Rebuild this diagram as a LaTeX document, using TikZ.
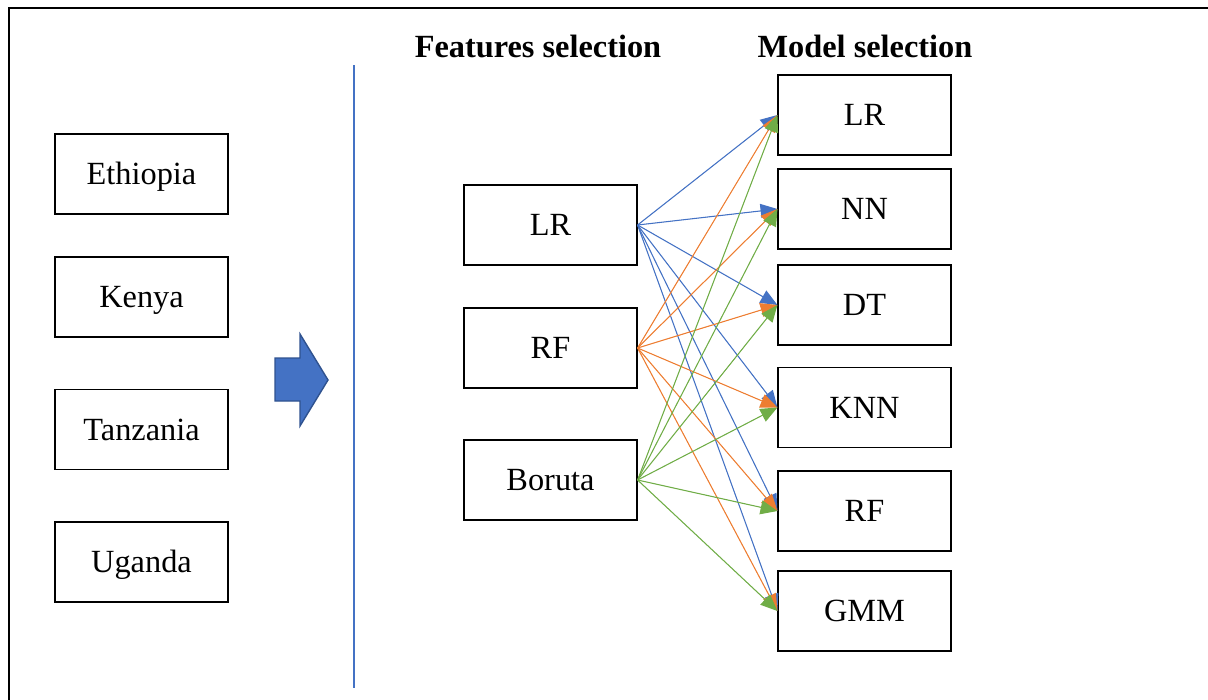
\documentclass[tikz,border=0pt]{standalone}
\usepackage{fontspec}
\setmainfont{Liberation Serif}
\usepackage{xcolor}
\usepackage{tikz}
\usetikzlibrary{arrows.meta}
\definecolor{accblue}{HTML}{4472C4}
\definecolor{accorange}{HTML}{ED7D31}
\definecolor{accgreen}{HTML}{70AD47}
\definecolor{arrowedge}{HTML}{2F528F}
\tikzset{my_diagram/.style={x=0.025cm,y=-0.025cm,line width=0.75pt}}
\tikzset{my_box/.style={draw, line width=0.8pt, minimum width=4.325cm, minimum height=2cm, text height=15pt, text depth=0pt, font=\fontsize{23}{27}\selectfont}}
\tikzset{my_title/.style={font=\bfseries\fontsize{23}{27}\selectfont}}
\tikzset{my_link/.style={-{Triangle[length=12pt,width=10pt]}, line width=0.75pt}}
\tikzset{from_lr/.style={my_link, draw=accblue, fill=accblue}}
\tikzset{from_rf/.style={my_link, draw=accorange, fill=accorange}}
\tikzset{from_boruta/.style={my_link, draw=accgreen, fill=accgreen}}

\begin{document}
\begin{tikzpicture}[my_diagram]
    \useasboundingbox (0,0) rectangle (1208,699);
    %\draw[help lines] (0,0) grid (1208,699);
    \draw[line width=0.9pt] (9,710) |- (1215,8);
    \draw[accblue, line width=1pt] (354,65) -- (354,688);

    % countries
    \node[my_box] (ethiopia) at (141.5,174) {Ethiopia};
    \node[my_box] (kenya) at (141.5,297) {Kenya};
    \node[my_box] (tanzania) at (141.5,429.5) {Tanzania};
    \node[my_box] (uganda) at (141.5,562) {Uganda};

    \filldraw[fill=accblue, draw=arrowedge, line width=1pt]
        (275,358) -- (300,358) -- (300,334) -- (328,380) -- (300,426) -- (300,401) -- (275,401) -- cycle;

    \node[my_title] (fs_title) at (538,46) {Features selection};
    \node[my_title] (ms_title) at (865,46) {Model selection};

    % features selection
    \node[my_box] (fs_lr) at (550.5,225) {LR};
    \node[my_box] (fs_rf) at (550.5,348) {RF};
    \node[my_box] (fs_boruta) at (550.5,480) {Boruta};

    % model selection
    \node[my_box] (ms_lr) at (864.5,115) {LR};
    \node[my_box] (ms_nn) at (864.5,209) {NN};
    \node[my_box] (ms_dt) at (864.5,305) {DT};
    \node[my_box] (ms_knn) at (864.5,407.5) {KNN};
    \node[my_box] (ms_rf) at (864.5,511) {RF};
    \node[my_box] (ms_gmm) at (864.5,611) {GMM};

    \path
        (fs_lr.east) edge [from_lr] (ms_lr.west)
        (fs_lr.east) edge [from_lr] (ms_nn.west)
        (fs_lr.east) edge [from_lr] (ms_dt.west)
        (fs_lr.east) edge [from_lr] (ms_knn.west)
        (fs_lr.east) edge [from_lr] (ms_rf.west)
        (fs_lr.east) edge [from_lr] (ms_gmm.west)
        (fs_rf.east) edge [from_rf] (ms_lr.west)
        (fs_rf.east) edge [from_rf] (ms_nn.west)
        (fs_rf.east) edge [from_rf] (ms_dt.west)
        (fs_rf.east) edge [from_rf] (ms_knn.west)
        (fs_rf.east) edge [from_rf] (ms_rf.west)
        (fs_rf.east) edge [from_rf] (ms_gmm.west)
        (fs_boruta.east) edge [from_boruta] (ms_lr.west)
        (fs_boruta.east) edge [from_boruta] (ms_nn.west)
        (fs_boruta.east) edge [from_boruta] (ms_dt.west)
        (fs_boruta.east) edge [from_boruta] (ms_knn.west)
        (fs_boruta.east) edge [from_boruta] (ms_rf.west)
        (fs_boruta.east) edge [from_boruta] (ms_gmm.west)
    ;
\end{tikzpicture}
\end{document}
